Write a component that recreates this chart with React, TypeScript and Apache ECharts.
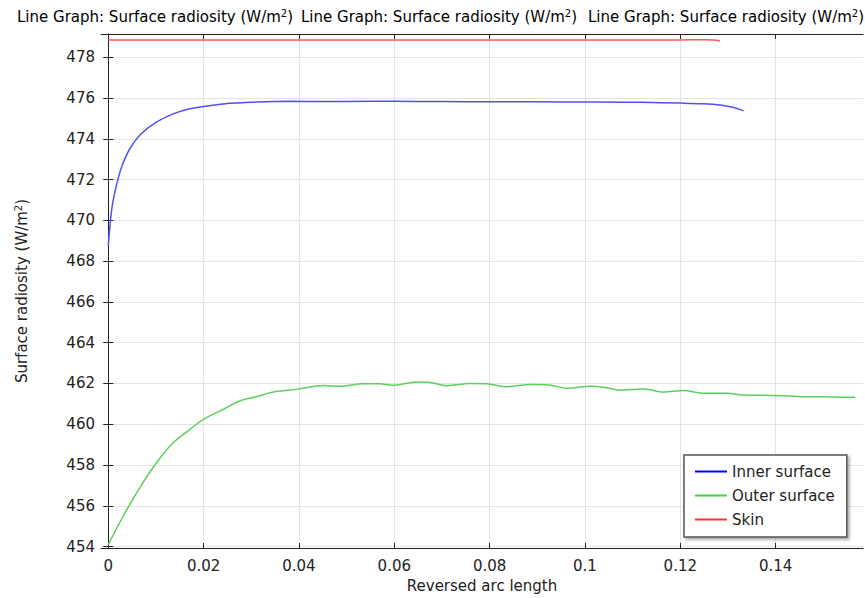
import React, { useEffect, useRef } from "react";
import * as echarts from "echarts";

const xTicks = [0, 0.02, 0.04, 0.06, 0.08, 0.1, 0.12, 0.14];
const yTicks = [454, 456, 458, 460, 462, 464, 466, 468, 470, 472, 474, 476, 478];

const seriesNames = ["Inner surface", "Outer surface", "Skin"];

const innerX = [0, 0.0005, 0.001, 0.002, 0.003, 0.0045, 0.0067, 0.01, 0.0136, 0.0171, 0.02, 0.0241, 0.031, 0.0381, 0.045, 0.055, 0.065, 0.075, 0.085, 0.095, 0.1032, 0.112, 0.12, 0.1245, 0.1284, 0.131, 0.1333];
const innerY = [468.76, 470.1, 470.95, 472.0, 472.75, 473.5, 474.2, 474.8, 475.22, 475.47, 475.58, 475.71, 475.8, 475.84, 475.83, 475.84, 475.83, 475.82, 475.82, 475.81, 475.8, 475.79, 475.75, 475.72, 475.66, 475.55, 475.37];

const outerX = [0, 0.00315, 0.00665, 0.01016, 0.01364, 0.01715, 0.01994, 0.0241, 0.0276, 0.0311, 0.0346, 0.0395, 0.0451, 0.0486, 0.0535, 0.057, 0.0595, 0.0647, 0.0675, 0.071, 0.0759, 0.0794, 0.0836, 0.0885, 0.092, 0.0962, 0.1011, 0.1039, 0.1074, 0.1123, 0.1165, 0.1207, 0.1249, 0.1298, 0.1326, 0.1375, 0.1424, 0.1459, 0.15, 0.155, 0.1567];
const outerY = [454.1, 455.5, 456.9, 458.12, 459.1, 459.75, 460.24, 460.73, 461.14, 461.35, 461.58, 461.71, 461.9, 461.86, 461.99, 461.99, 461.91, 462.07, 462.05, 461.89, 462.0, 461.99, 461.84, 461.95, 461.94, 461.77, 461.86, 461.82, 461.68, 461.73, 461.58, 461.65, 461.52, 461.52, 461.45, 461.42, 461.4, 461.35, 461.35, 461.32, 461.32];

const skinX = [0, 0.02, 0.04, 0.06, 0.08, 0.1, 0.12, 0.125, 0.127, 0.1283];
const skinY = [478.85, 478.85, 478.85, 478.85, 478.85, 478.85, 478.85, 478.86, 478.85, 478.8];

const lineColors = ["#5050ff", "#5fcf5f", "#ff5555"];
const legendColors = ["#0000ff", "#44cc44", "#ff3333"];

const titleText = "Line Graph: Surface radiosity (W/m";
const FONT = "DejaVu Sans";

function pairs(xs: number[], ys: number[]) {
  return xs.map((x, i) => [x, ys[i]]);
}

export default function App() {
  const ref = useRef<HTMLDivElement>(null);
  useEffect(() => {
    if (!ref.current) return;
    const chart = echarts.init(ref.current, undefined, { renderer: "svg" });
    const xMin = -0.00153;
    const xMax = 0.15833;
    const yMin = 453.93;
    const yMax = 479.14;
    const frameColor = "#222";
    const titleRich = {
      a: { fontFamily: FONT, fontSize: 15, color: "#222" },
      s: { fontFamily: FONT, fontSize: 10, color: "#222", padding: [0, 0, 8, 0] },
    };
    const titleLefts = [17, 301, 588];
    chart.setOption({
      animation: false,
      backgroundColor: "#fff",
      textStyle: { fontFamily: FONT },
      graphic: titleLefts.map((l) => ({
        type: "text",
        left: l,
        top: 8,
        style: {
          text: "{a|" + titleText + "}{s|2}{a|)}",
          rich: titleRich,
        },
      })),
      grid: { left: 101, top: 34, right: 2, bottom: 49, containLabel: false },
      legend: {
        show: true,
        orient: "vertical",
        left: 684,
        top: 455,
        padding: [9, 12, 10, 11],
        itemGap: 9,
        itemWidth: 32,
        itemHeight: 2,
        itemTextGap: 5,
        icon: "rect",
        backgroundColor: "#fff",
        borderColor: "#555",
        borderWidth: 1.5,
        shadowColor: "rgba(0,0,0,0.35)",
        shadowBlur: 3,
        shadowOffsetX: 2,
        shadowOffsetY: 2,
        textStyle: { fontFamily: FONT, fontSize: 15, lineHeight: 15, color: "#222" },
        data: seriesNames.map((n, i) => ({ name: n, itemStyle: { color: legendColors[i] } })),
      },
      xAxis: [
        {
          type: "value",
          position: "bottom",
          min: xMin,
          max: xMax,
          name: "Reversed arc length",
          nameLocation: "middle",
          nameGap: 30,
          nameTextStyle: { fontFamily: FONT, fontSize: 15, color: "#222" },
          axisLine: { show: true, lineStyle: { color: frameColor, width: 1 } },
          axisTick: { show: true, inside: true, length: 5, customValues: xTicks, lineStyle: { color: frameColor } },
          axisLabel: {
            show: true,
            customValues: xTicks,
            margin: 10,
            fontFamily: FONT,
            fontSize: 15,
            color: "#222",
            formatter: (v: number) => String(parseFloat(v.toFixed(4))),
          },
          splitLine: { show: true, lineStyle: { color: "#e4e4e4", width: 1 } },
        },
        {
          type: "value",
          position: "top",
          min: xMin,
          max: xMax,
          axisLine: { show: true, lineStyle: { color: frameColor, width: 1 } },
          axisTick: { show: true, inside: true, length: 5, customValues: xTicks, lineStyle: { color: frameColor } },
          axisLabel: { show: false },
          splitLine: { show: false },
        },
      ],
      yAxis: [
        {
          type: "value",
          position: "left",
          min: yMin,
          max: yMax,
          name: "Surface radiosity (W/m{s|2})",
          nameLocation: "middle",
          nameGap: 70,
          nameRotate: 90,
          nameTextStyle: {
            fontFamily: FONT,
            fontSize: 15,
            color: "#222",
            rich: {
              s: { fontFamily: FONT, fontSize: 10, color: "#222", padding: [0, 0, 8, 0] },
            },
          },
          axisLine: { show: true, lineStyle: { color: frameColor, width: 1 } },
          axisTick: { show: true, inside: true, length: 5, customValues: yTicks, lineStyle: { color: frameColor } },
          axisLabel: {
            show: true,
            customValues: yTicks,
            margin: 6,
            fontFamily: FONT,
            fontSize: 15,
            color: "#222",
          },
          splitLine: { show: true, lineStyle: { color: "#e4e4e4", width: 1 } },
        },
        {
          type: "value",
          position: "right",
          min: yMin,
          max: yMax,
          axisLine: { show: true, lineStyle: { color: frameColor, width: 1 } },
          axisTick: { show: true, inside: true, length: 5, customValues: yTicks, lineStyle: { color: frameColor } },
          axisLabel: { show: false },
          splitLine: { show: false },
        },
      ],
      series: [
        { name: seriesNames[0], data: pairs(innerX, innerY) },
        { name: seriesNames[1], data: pairs(outerX, outerY) },
        { name: seriesNames[2], data: pairs(skinX, skinY) },
      ].map((s, i) => ({
        ...s,
        type: "line",
        xAxisIndex: 0,
        yAxisIndex: 0,
        showSymbol: false,
        symbol: "none",
        smooth: 0.3,
        color: lineColors[i],
        lineStyle: { color: lineColors[i], width: 1.5 },
      })),
    });
    return () => chart.dispose();
  }, []);
  return (
    <div
      ref={ref}
      style={{ position: "fixed", left: 0, top: 0, width: 865, height: 598 }}
    />
  );
}
